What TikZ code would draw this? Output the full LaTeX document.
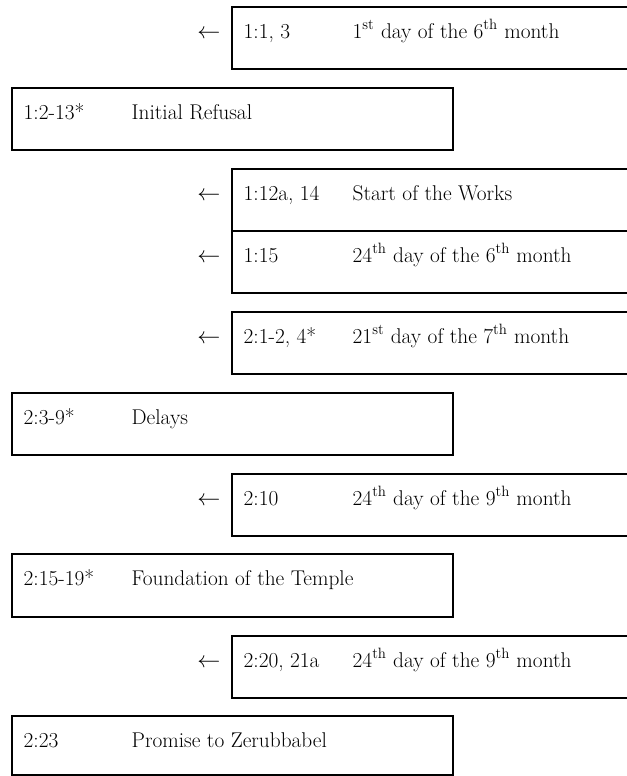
\documentclass[tikz,border=0pt]{standalone}
\begin{document}
\begin{tikzpicture}[x=0.75pt,y=-0.75pt,line width=1pt,
  txt/.style={anchor=base west,inner sep=0pt,font=\fontsize{16}{19}\selectfont}]
\useasboundingbox (0,0) rectangle (627,776);
\clip (0,0) rectangle (627,776);
% boxes on the left
\foreach \t/\h/\r/\w [count=\i] in {88/62/{1:2-13*}/{Initial Refusal},393/62/{2:3-9*}/{Delays},554/63/{2:15-19*}/{Foundation of the Temple},716/59/{2:23}/{Promise to Zerubbabel}}{
  \draw (12,\t) rectangle (453,\t+\h);
  \node[txt] (lref\i) at (23,\t+31) {\r};
  \node[txt] (lcap\i) at (131,\t+31) {\w};
}
% boxes on the right, open to the edge
\foreach \t/\r/\w [count=\i] in {7/{1:1, 3}/{1\textsuperscript{st} day of the 6\textsuperscript{th} month},169/{1:12a, 14}/{Start of the Works},231/{1:15}/{24\textsuperscript{th} day of the 6\textsuperscript{th} month},312/{2:1-2, 4*}/{21\textsuperscript{st} day of the 7\textsuperscript{th} month},474/{2:10}/{24\textsuperscript{th} day of the 9\textsuperscript{th} month},636/{2:20, 21a}/{24\textsuperscript{th} day of the 9\textsuperscript{th} month}}{
  \draw (640,\t) -- (232,\t) -- (232,\t+62) -- (640,\t+62);
  \node[txt,anchor=base east] (arr\i) at (221,\t+31) {$\leftarrow$};
  \node[txt] (rref\i) at (243,\t+31) {\r};
  \node[txt] (rcap\i) at (352,\t+31) {\w};
}
\end{tikzpicture}
\end{document}
